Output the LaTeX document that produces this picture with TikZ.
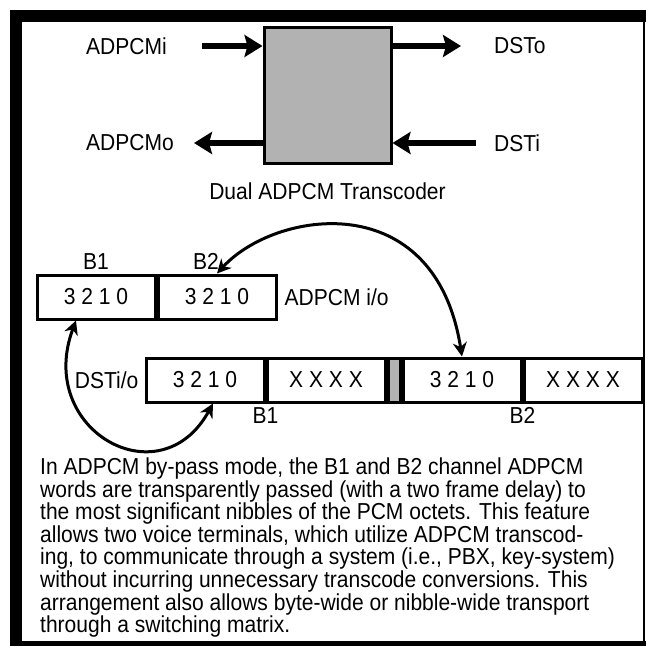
\documentclass[tikz,border=0pt]{standalone}
\usepackage{fontspec}
\setmainfont{Liberation Sans}[FakeStretch=0.91]
\usetikzlibrary{positioning,arrows.meta}
\definecolor{coregray}{gray}{0.7}

\begin{document}
\begin{tikzpicture}[x=1pt,y=-1pt,
    lbl/.style={inner sep=0pt,font=\fontsize{23.1}{22.6}\selectfont},
    cell/.style={draw,line width=3pt,minimum width=\cellwidth pt,minimum height=\cellheight pt,inner sep=0pt,font=\fontsize{23.1}{22.6}\selectfont},
    bus/.style={line width=6pt,-{Stealth[length=18pt,width=22pt,inset=3pt]}},
    hop/.style={line width=3pt,{Stealth[length=14pt,width=14pt]}-{Stealth[length=14pt,width=14pt]}}]
    \pgfmathsetmacro{\cellwidth}{118}
    \pgfmathsetmacro{\cellheight}{44}
    \pgfmathsetmacro{\framewidth}{12}
    \useasboundingbox (0,0) rectangle (646,646);
    % frame
    \fill (10,10) rectangle (646,10+\framewidth);
    \fill (10,10) rectangle (10+\framewidth,646);
    \fill (10,641) rectangle (646,646);
    \fill (643,22) rectangle (645,641);
    % transcoder block
    \node[draw,line width=3pt,fill=coregray,minimum width=127pt,minimum height=136pt] (coder) at (327.5,95) {};
    \node[lbl,below=18pt of coder] (title) {Dual ADPCM Transcoder};
    \node[lbl,anchor=west] (ain) at (86,46) {ADPCMi};
    \node[lbl,anchor=west] (dout) at (494,46) {DSTo};
    \node[lbl,anchor=west] (aout) at (86,143) {ADPCMo};
    \node[lbl,anchor=west] (din) at (494,143) {DSTi};
    \draw[bus] ([xshift=35pt]ain.east) -- (ain.east -| coder.west);
    \draw[bus] (dout.west -| coder.east) -- ([xshift=-33pt]dout.west);
    \draw[bus] (aout.east -| coder.west) -- ([xshift=20pt]aout.east);
    \draw[bus] ([xshift=-18pt]din.west) -- (din.west -| coder.east);
    % ADPCM i/o
    \node[cell] (abone) at (96,297) {3 2 1 0};
    \node[cell,right=0pt of abone] (abtwo) {3 2 1 0};
    \node[lbl,above=4pt of abone] (abonelbl) {B1};
    \node[lbl,above=4pt of abtwo,xshift=-11pt] (abtwolbl) {B2};
    \node[lbl,right=7pt of abtwo] (abname) {ADPCM i/o};
    % DSTi/o
    \node[cell] (dbone) at (205,380) {3 2 1 0};
    \node[cell,right=0pt of dbone] (dxone) {X X X X};
    \node[cell,right=0pt of dxone,minimum width=12pt,fill=coregray] (gap) {};
    \node[cell,right=0pt of gap] (dbtwo) {3 2 1 0};
    \node[cell,right=0pt of dbtwo] (dxtwo) {X X X X};
    \node[lbl,left=6pt of dbone] (dstname) {DSTi/o};
    \node[lbl,below=4pt of dbone.south east] (dbonelbl) {B1};
    \node[lbl,below=4pt of dbtwo.south east] (dbtwolbl) {B2};
    \draw[hop] (abtwo.north) .. controls (275,210) and (435,185) .. (dbtwo.north);
    \draw[hop] ([xshift=-20pt]abone.south) .. controls (35,430) and (160,500) .. ([xshift=8pt]dbone.south);
    % note
    \node[lbl,align=left,anchor=north west] (note) at (40,457.5) {In ADPCM by-pass mode, the B1 and B2 channel ADPCM\\
        words are transparently passed (with a two frame delay) to\\
        the most significant nibbles of the PCM octets. This feature\\
        allows two voice terminals, which utilize ADPCM transcod-\\
        ing, to communicate through a system (i.e., PBX, key-system)\\
        without incurring unnecessary transcode conversions. This\\
        arrangement also allows byte-wide or nibble-wide transport\\
        through a switching matrix.};
\end{tikzpicture}
\end{document}
